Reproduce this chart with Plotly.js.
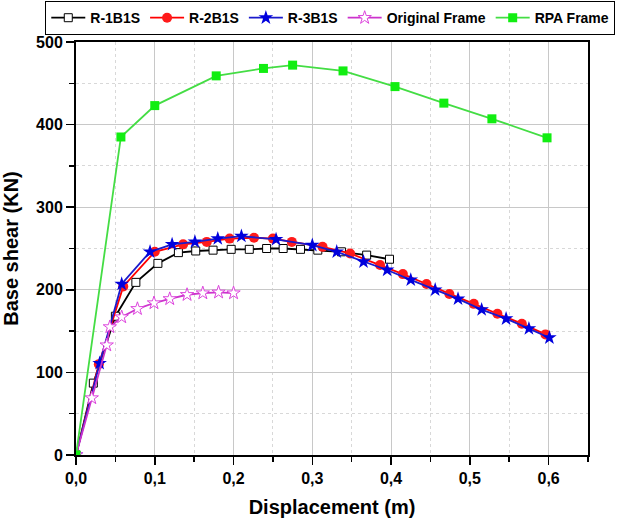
<!DOCTYPE html>
<html><head><meta charset="utf-8">
<script src="https://cdn.plot.ly/plotly-3.0.1.min.js"></script>
<style>html,body{margin:0;padding:0;background:#fff}#c{width:624px;height:526px}</style>
</head><body><div id="c"></div>
<script>
const r1x = [0, 0.022, 0.05, 0.076, 0.104, 0.13, 0.152, 0.174, 0.197, 0.22, 0.242, 0.263, 0.285, 0.307, 0.337, 0.369, 0.398];
const r1y = [0, 87, 168, 209, 232, 245, 247, 248, 249, 249, 250, 250, 249, 248, 246, 242, 237];
const r2x = [0, 0.029, 0.06, 0.1, 0.136, 0.166, 0.195, 0.226, 0.25, 0.274, 0.313, 0.348, 0.386, 0.415, 0.445, 0.474, 0.505, 0.535, 0.566, 0.596];
const r2y = [0, 110, 204, 246, 255, 258, 262, 263, 262, 258, 252, 244, 230, 219, 207, 195, 183, 171, 159, 146];
const r3x = [0, 0.03, 0.058, 0.094, 0.122, 0.151, 0.18, 0.21, 0.254, 0.3, 0.331, 0.365, 0.395, 0.425, 0.456, 0.485, 0.515, 0.546, 0.575, 0.601];
const r3y = [0, 111, 207, 246, 255, 258, 262, 265, 261, 254, 246, 234, 224, 212, 200, 189, 176, 165, 153, 142];
const ofx = [0, 0.02, 0.039, 0.043, 0.058, 0.078, 0.099, 0.119, 0.141, 0.161, 0.181, 0.2];
const ofy = [0, 69, 133, 155, 167, 177, 184, 189, 194, 196, 197, 196];
const rpx = [0, 0.057, 0.1, 0.178, 0.238, 0.275, 0.339, 0.405, 0.467, 0.528, 0.598];
const rpy = [0, 385, 423, 459, 468, 472, 465, 446, 426, 407, 384];
const names = ['R-1B1S', 'R-2B1S', 'R-3B1S', 'Original Frame', 'RPA Frame'];

const traces = [
  {x: r1x, y: r1y, name: names[0], mode: 'lines+markers',
   line: {color: '#000000', width: 1.8},
   marker: {symbol: 'square', size: 8, color: '#ffffff', line: {color: '#000000', width: 1}}},
  {x: r2x, y: r2y, name: names[1], mode: 'lines+markers',
   line: {color: '#ff0000', width: 1.8},
   marker: {symbol: 'circle', size: 10, color: '#ff1a1a'}},
  {x: r3x, y: r3y, name: names[2], mode: 'lines+markers',
   line: {color: '#1a1acc', width: 1.8},
   marker: {symbol: 'star', size: 11, color: '#0000dd'}},
  {x: ofx, y: ofy, name: names[3], mode: 'lines+markers',
   line: {color: '#cc33cc', width: 1.8},
   marker: {symbol: 'star', size: 10, color: '#ffffff', line: {color: '#dd44dd', width: 1}}},
  {x: rpx, y: rpy, name: names[4], mode: 'lines+markers',
   line: {color: '#44dd44', width: 1.8},
   marker: {symbol: 'square', size: 9, color: '#11ee11'}}
];

const axisCommon = {
  showline: true, linecolor: '#000', linewidth: 2, mirror: true,
  ticks: 'outside', ticklen: 8, tickwidth: 1.5, tickcolor: '#000',
  showgrid: true, gridcolor: '#c8c8c8', gridwidth: 1, zeroline: false,
  tickfont: {family: 'Liberation Sans, Arial, sans-serif', size: 16, color: '#000', weight: 'bold'}
};

const layout = {
  width: 624, height: 526,
  margin: {l: 76, r: 36, t: 42, b: 71, autoexpand: false},
  paper_bgcolor: '#fff', plot_bgcolor: '#fff',
  separators: ',.',
  font: {family: 'Liberation Sans, Arial, sans-serif', color: '#000'},
  xaxis: Object.assign({}, axisCommon, {
    range: [0, 0.65], dtick: 0.1, tick0: 0, tickformat: '.1f',
    minor: {dtick: 0.05, showgrid: true, gridcolor: '#d8d8d8', griddash: 'dot', ticks: 'outside', ticklen: 5, tickcolor: '#000'},
    title: {text: 'Displacement (m)', font: {size: 20, weight: 'bold', color: '#000'}, standoff: 14}
  }),
  yaxis: Object.assign({}, axisCommon, {
    range: [0, 500], dtick: 100, tick0: 0,
    minor: {dtick: 50, showgrid: true, gridcolor: '#d8d8d8', griddash: 'dot', ticks: 'outside', ticklen: 5, tickcolor: '#000'},
    title: {text: 'Base shear (KN)', font: {size: 20, weight: 'bold', color: '#000'}, standoff: 12}
  }),
  showlegend: true,
  legend: {
    orientation: 'h', x: -0.06, y: 1.099, xanchor: 'left', yanchor: 'top',
    bordercolor: '#000', borderwidth: 1, bgcolor: '#fff',
    font: {size: 14, weight: 'bold', color: '#000'},
    itemwidth: 34, tracegroupgap: 0
  }
};

Plotly.newPlot('c', traces, layout, {displayModeBar: false, staticPlot: true});
</script>
</body></html>
